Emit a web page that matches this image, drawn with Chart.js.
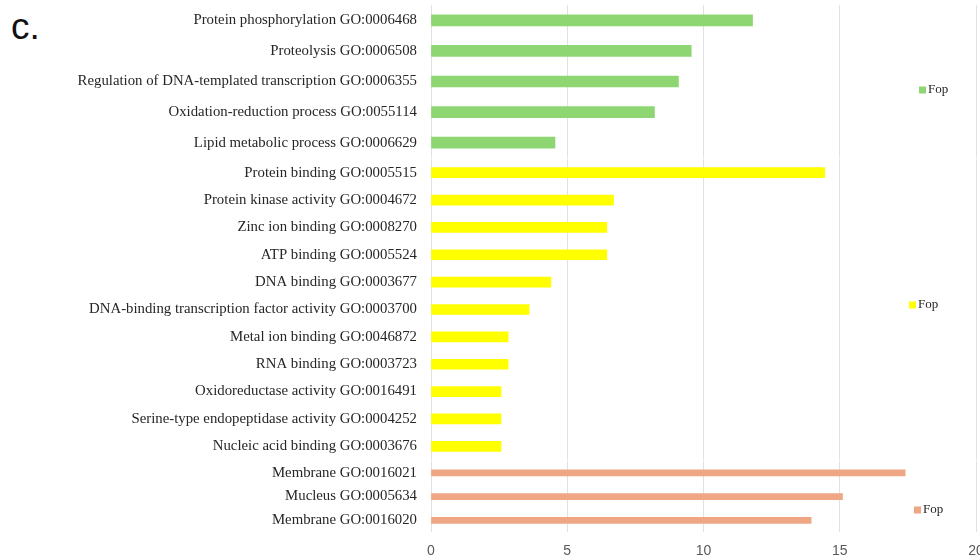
<!DOCTYPE html>
<html>
<head>
<meta charset="utf-8">
<script src="https://cdn.jsdelivr.net/npm/chart.js@4.4.1/dist/chart.umd.min.js"></script>
<style>
  html, body { margin: 0; padding: 0; width: 980px; height: 557px; overflow: hidden; background: #ffffff; }
  canvas { position: absolute; left: 0; }
  #tag { position: absolute; left: 11px; top: 5px; font: 37px "Liberation Sans", Arial, sans-serif; color: #111; line-height: 44px; }
</style>
</head>
<body>
<div id="tag">c.</div>
<canvas id="processChart" width="984" height="153" style="top:5px"></canvas>
<canvas id="functionChart" width="984" height="301" style="top:159px"></canvas>
<canvas id="componentChart" width="984" height="110" style="top:461px"></canvas>
<script>
// GO terms and their values, one group per panel
const processTerms = [
  'Protein phosphorylation GO:0006468',
  'Proteolysis GO:0006508',
  'Regulation of DNA-templated transcription GO:0006355',
  'Oxidation-reduction process GO:0055114',
  'Lipid metabolic process GO:0006629'
];
const processValues = [11.8, 9.55, 9.08, 8.2, 4.55];

const functionTerms = [
  'Protein binding GO:0005515',
  'Protein kinase activity GO:0004672',
  'Zinc ion binding GO:0008270',
  'ATP binding GO:0005524',
  'DNA binding GO:0003677',
  'DNA-binding transcription factor activity GO:0003700',
  'Metal ion binding GO:0046872',
  'RNA binding GO:0003723',
  'Oxidoreductase activity GO:0016491',
  'Serine-type endopeptidase activity GO:0004252',
  'Nucleic acid binding GO:0003676'
];
const functionValues = [14.45, 6.7, 6.45, 6.45, 4.4, 3.6, 2.83, 2.83, 2.57, 2.57, 2.57];

const componentTerms = [
  'Membrane GO:0016021',
  'Mucleus GO:0005634',
  'Membrane GO:0016020'
];
const componentValues = [17.4, 15.1, 13.95];

const seriesName = 'Fop';
const xTickValues = [0, 5, 10, 15, 20];

// Small legend drawn inside the plot area, to the right of the bars
const insetLegend = {
  id: 'insetLegend',
  afterDraw(chart, args, opts) {
    const ds = chart.data.datasets[0];
    const ctx = chart.ctx;
    const s = opts.boxSize;
    ctx.save();
    ctx.fillStyle = ds.backgroundColor;
    ctx.fillRect(opts.x, opts.y - s / 2, s, s);
    ctx.fillStyle = '#262626';
    ctx.font = '13px "Liberation Serif", serif';
    ctx.textBaseline = 'middle';
    ctx.textAlign = 'left';
    ctx.fillText(ds.label, opts.x + s + 2, opts.y);
    ctx.restore();
  }
};

const AXIS_LEFT = 431;   // x position of the value 0 line
const GRID = '#e1e1e1';

function makeChart(id, terms, values, color, thickness, showTicks, legendPos) {
  return new Chart(document.getElementById(id), {
    type: 'bar',
    data: {
      labels: terms,
      datasets: [{
        label: seriesName,
        data: values,
        backgroundColor: color,
        borderWidth: 0,
        barThickness: thickness
      }]
    },
    plugins: [insetLegend],
    options: {
      indexAxis: 'y',
      responsive: false,
      animation: false,
      layout: { padding: { left: 0, right: 8, top: 0, bottom: 0 } },
      plugins: {
        legend: { display: false },
        tooltip: { enabled: false },
        insetLegend: Object.assign({ boxSize: 7 }, legendPos)
      },
      scales: {
        x: {
          min: 0,
          max: 20,
          afterBuildTicks(scale) { scale.ticks = xTickValues.map(v => ({ value: v })); },
          afterFit(scale) { scale.paddingLeft = 0; scale.paddingRight = 0; },
          grid: { color: GRID, lineWidth: 1, drawTicks: false },
          border: { display: false },
          ticks: {
            display: showTicks,
            autoSkip: false,
            padding: 11,
            color: '#595959',
            font: { family: '"Liberation Sans", Arial, sans-serif', size: 14 }
          }
        },
        y: {
          afterFit(scale) {
            scale.width = AXIS_LEFT;
            scale.paddingTop = 0;
            scale.paddingBottom = 0;
          },
          grid: { display: false, drawTicks: true, tickLength: 14 },
          border: { display: false },
          ticks: {
            autoSkip: false,
            padding: 0,
            color: '#262626',
            font: { family: '"Liberation Serif", "Times New Roman", serif', size: 14.8 }
          }
        }
      }
    }
  });
}

makeChart('processChart', processTerms, processValues, '#8dd672', 11, false, { x: 919, y: 85 });
makeChart('functionChart', functionTerms, functionValues, '#ffff00', 10, false, { x: 909, y: 146 });
makeChart('componentChart', componentTerms, componentValues, '#eea684', 6, true, { x: 914, y: 49 });
</script>
</body>
</html>
